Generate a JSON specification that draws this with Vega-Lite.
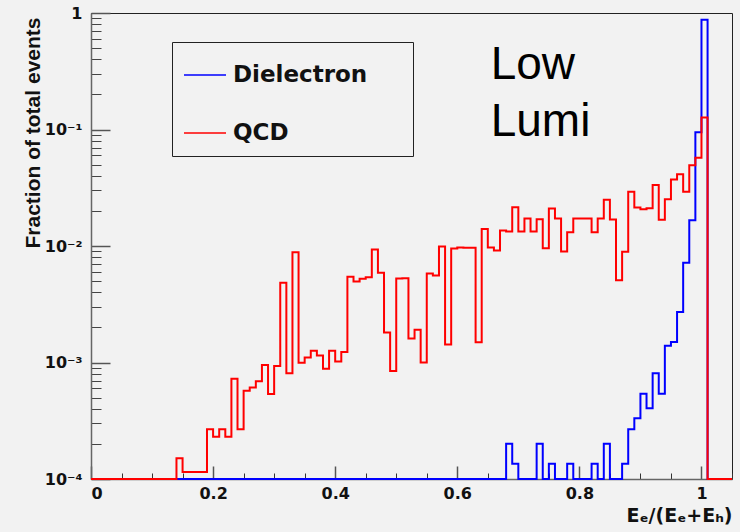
{
  "$schema": "https://vega.github.io/schema/vega-lite/v6.json",
  "width": 641,
  "height": 466,
  "autosize": {"type": "none"},
  "padding": {"left": 91, "top": 13, "right": 8, "bottom": 53},
  "background": "#f2f2f2",
  "config": {
    "view": {"stroke": "#222", "strokeWidth": 1, "fill": "#f2f2f2"},
    "font": "DejaVu Sans"
  },
  "data": {
    "values": [
      {"series":"Dielectron","bin":0,"frac":0.0001},{"series":"Dielectron","bin":0.01,"frac":0.0001},{"series":"Dielectron","bin":0.02,"frac":0.0001},{"series":"Dielectron","bin":0.03,"frac":0.0001},{"series":"Dielectron","bin":0.04,"frac":0.0001},{"series":"Dielectron","bin":0.05,"frac":0.0001},{"series":"Dielectron","bin":0.06,"frac":0.0001},{"series":"Dielectron","bin":0.07,"frac":0.0001},{"series":"Dielectron","bin":0.08,"frac":0.0001},{"series":"Dielectron","bin":0.09,"frac":0.0001},
      {"series":"Dielectron","bin":0.1,"frac":0.0001},{"series":"Dielectron","bin":0.11,"frac":0.0001},{"series":"Dielectron","bin":0.12,"frac":0.0001},{"series":"Dielectron","bin":0.13,"frac":0.0001},{"series":"Dielectron","bin":0.14,"frac":0.0001},{"series":"Dielectron","bin":0.15,"frac":0.0001},{"series":"Dielectron","bin":0.16,"frac":0.0001},{"series":"Dielectron","bin":0.17,"frac":0.0001},{"series":"Dielectron","bin":0.18,"frac":0.0001},{"series":"Dielectron","bin":0.19,"frac":0.0001},
      {"series":"Dielectron","bin":0.2,"frac":0.0001},{"series":"Dielectron","bin":0.21,"frac":0.0001},{"series":"Dielectron","bin":0.22,"frac":0.0001},{"series":"Dielectron","bin":0.23,"frac":0.0001},{"series":"Dielectron","bin":0.24,"frac":0.0001},{"series":"Dielectron","bin":0.25,"frac":0.0001},{"series":"Dielectron","bin":0.26,"frac":0.0001},{"series":"Dielectron","bin":0.27,"frac":0.0001},{"series":"Dielectron","bin":0.28,"frac":0.0001},{"series":"Dielectron","bin":0.29,"frac":0.0001},
      {"series":"Dielectron","bin":0.3,"frac":0.0001},{"series":"Dielectron","bin":0.31,"frac":0.0001},{"series":"Dielectron","bin":0.32,"frac":0.0001},{"series":"Dielectron","bin":0.33,"frac":0.0001},{"series":"Dielectron","bin":0.34,"frac":0.0001},{"series":"Dielectron","bin":0.35,"frac":0.0001},{"series":"Dielectron","bin":0.36,"frac":0.0001},{"series":"Dielectron","bin":0.37,"frac":0.0001},{"series":"Dielectron","bin":0.38,"frac":0.0001},{"series":"Dielectron","bin":0.39,"frac":0.0001},
      {"series":"Dielectron","bin":0.4,"frac":0.0001},{"series":"Dielectron","bin":0.41,"frac":0.0001},{"series":"Dielectron","bin":0.42,"frac":0.0001},{"series":"Dielectron","bin":0.43,"frac":0.0001},{"series":"Dielectron","bin":0.44,"frac":0.0001},{"series":"Dielectron","bin":0.45,"frac":0.0001},{"series":"Dielectron","bin":0.46,"frac":0.0001},{"series":"Dielectron","bin":0.47,"frac":0.0001},{"series":"Dielectron","bin":0.48,"frac":0.0001},{"series":"Dielectron","bin":0.49,"frac":0.0001},
      {"series":"Dielectron","bin":0.5,"frac":0.0001},{"series":"Dielectron","bin":0.51,"frac":0.0001},{"series":"Dielectron","bin":0.52,"frac":0.0001},{"series":"Dielectron","bin":0.53,"frac":0.0001},{"series":"Dielectron","bin":0.54,"frac":0.0001},{"series":"Dielectron","bin":0.55,"frac":0.0001},{"series":"Dielectron","bin":0.56,"frac":0.0001},{"series":"Dielectron","bin":0.57,"frac":0.0001},{"series":"Dielectron","bin":0.58,"frac":0.0001},{"series":"Dielectron","bin":0.59,"frac":0.0001},
      {"series":"Dielectron","bin":0.6,"frac":0.0001},{"series":"Dielectron","bin":0.61,"frac":0.0001},{"series":"Dielectron","bin":0.62,"frac":0.0001},{"series":"Dielectron","bin":0.63,"frac":0.0001},{"series":"Dielectron","bin":0.64,"frac":0.0001},{"series":"Dielectron","bin":0.65,"frac":0.0001},{"series":"Dielectron","bin":0.66,"frac":0.0001},{"series":"Dielectron","bin":0.67,"frac":0.0001},{"series":"Dielectron","bin":0.68,"frac":0.000201},{"series":"Dielectron","bin":0.69,"frac":0.0001355},
      {"series":"Dielectron","bin":0.7,"frac":0.0001},{"series":"Dielectron","bin":0.71,"frac":0.0001},{"series":"Dielectron","bin":0.72,"frac":0.0001},{"series":"Dielectron","bin":0.73,"frac":0.000201},{"series":"Dielectron","bin":0.74,"frac":0.0001},{"series":"Dielectron","bin":0.75,"frac":0.0001355},{"series":"Dielectron","bin":0.76,"frac":0.0001},{"series":"Dielectron","bin":0.77,"frac":0.0001},{"series":"Dielectron","bin":0.78,"frac":0.0001355},{"series":"Dielectron","bin":0.79,"frac":0.0001},
      {"series":"Dielectron","bin":0.8,"frac":0.0001},{"series":"Dielectron","bin":0.81,"frac":0.0001},{"series":"Dielectron","bin":0.82,"frac":0.0001355},{"series":"Dielectron","bin":0.83,"frac":0.0001},{"series":"Dielectron","bin":0.84,"frac":0.000201},{"series":"Dielectron","bin":0.85,"frac":0.0001},{"series":"Dielectron","bin":0.86,"frac":0.0001},{"series":"Dielectron","bin":0.87,"frac":0.0001355},{"series":"Dielectron","bin":0.88,"frac":0.000267},{"series":"Dielectron","bin":0.89,"frac":0.000333},
      {"series":"Dielectron","bin":0.9,"frac":0.00054},{"series":"Dielectron","bin":0.91,"frac":0.000404},{"series":"Dielectron","bin":0.92,"frac":0.000807},{"series":"Dielectron","bin":0.93,"frac":0.00054},{"series":"Dielectron","bin":0.94,"frac":0.00139},{"series":"Dielectron","bin":0.95,"frac":0.0015},{"series":"Dielectron","bin":0.96,"frac":0.00271},{"series":"Dielectron","bin":0.97,"frac":0.00718},{"series":"Dielectron","bin":0.98,"frac":0.0166},{"series":"Dielectron","bin":0.99,"frac":0.0946},
      {"series":"Dielectron","bin":1,"frac":0.876},{"series":"Dielectron","bin":1.01,"frac":0.0001},{"series":"Dielectron","bin":1.02,"frac":0.0001},{"series":"Dielectron","bin":1.03,"frac":0.0001},{"series":"Dielectron","bin":1.04,"frac":0.0001},{"series":"Dielectron","bin":1.05,"frac":0.0001},

      {"series":"QCD","bin":0,"frac":0.0001},{"series":"QCD","bin":0.01,"frac":0.0001},{"series":"QCD","bin":0.02,"frac":0.0001},{"series":"QCD","bin":0.03,"frac":0.0001},{"series":"QCD","bin":0.04,"frac":0.0001},{"series":"QCD","bin":0.05,"frac":0.0001},{"series":"QCD","bin":0.06,"frac":0.0001},{"series":"QCD","bin":0.07,"frac":0.0001},{"series":"QCD","bin":0.08,"frac":0.0001},{"series":"QCD","bin":0.09,"frac":0.0001},
      {"series":"QCD","bin":0.1,"frac":0.0001},{"series":"QCD","bin":0.11,"frac":0.0001},{"series":"QCD","bin":0.12,"frac":0.0001},{"series":"QCD","bin":0.13,"frac":0.0001},{"series":"QCD","bin":0.14,"frac":0.000151},{"series":"QCD","bin":0.15,"frac":0.000115},{"series":"QCD","bin":0.16,"frac":0.000115},{"series":"QCD","bin":0.17,"frac":0.000115},{"series":"QCD","bin":0.18,"frac":0.000115},{"series":"QCD","bin":0.19,"frac":0.000267},
      {"series":"QCD","bin":0.2,"frac":0.000231},{"series":"QCD","bin":0.21,"frac":0.000267},{"series":"QCD","bin":0.22,"frac":0.000231},{"series":"QCD","bin":0.23,"frac":0.000726},{"series":"QCD","bin":0.24,"frac":0.000267},{"series":"QCD","bin":0.25,"frac":0.000573},{"series":"QCD","bin":0.26,"frac":0.000611},{"series":"QCD","bin":0.27,"frac":0.000689},{"series":"QCD","bin":0.28,"frac":0.00095},{"series":"QCD","bin":0.29,"frac":0.000536},
      {"series":"QCD","bin":0.3,"frac":0.000931},{"series":"QCD","bin":0.31,"frac":0.00483},{"series":"QCD","bin":0.32,"frac":0.000807},{"series":"QCD","bin":0.33,"frac":0.00885},{"series":"QCD","bin":0.34,"frac":0.000996},{"series":"QCD","bin":0.35,"frac":0.001106},{"series":"QCD","bin":0.36,"frac":0.001262},{"series":"QCD","bin":0.37,"frac":0.00115},{"series":"QCD","bin":0.38,"frac":0.000885},{"series":"QCD","bin":0.39,"frac":0.00126},
      {"series":"QCD","bin":0.4,"frac":0.00102},{"series":"QCD","bin":0.41,"frac":0.001228},{"series":"QCD","bin":0.42,"frac":0.00544},{"series":"QCD","bin":0.43,"frac":0.00496},{"series":"QCD","bin":0.44,"frac":0.00523},{"series":"QCD","bin":0.45,"frac":0.0054},{"series":"QCD","bin":0.46,"frac":0.00933},{"series":"QCD","bin":0.47,"frac":0.00589},{"series":"QCD","bin":0.48,"frac":0.00181},{"series":"QCD","bin":0.49,"frac":0.000844},
      {"series":"QCD","bin":0.5,"frac":0.00526},{"series":"QCD","bin":0.51,"frac":0.00529},{"series":"QCD","bin":0.52,"frac":0.00161},{"series":"QCD","bin":0.53,"frac":0.00191},{"series":"QCD","bin":0.54,"frac":0.001},{"series":"QCD","bin":0.55,"frac":0.00581},{"series":"QCD","bin":0.56,"frac":0.00558},{"series":"QCD","bin":0.57,"frac":0.0099},{"series":"QCD","bin":0.58,"frac":0.00143},{"series":"QCD","bin":0.59,"frac":0.00952},
      {"series":"QCD","bin":0.6,"frac":0.00971},{"series":"QCD","bin":0.61,"frac":0.00965},{"series":"QCD","bin":0.62,"frac":0.00965},{"series":"QCD","bin":0.63,"frac":0.00149},{"series":"QCD","bin":0.64,"frac":0.014},{"series":"QCD","bin":0.65,"frac":0.00971},{"series":"QCD","bin":0.66,"frac":0.00915},{"series":"QCD","bin":0.67,"frac":0.0136},{"series":"QCD","bin":0.68,"frac":0.0133},{"series":"QCD","bin":0.69,"frac":0.0215},
      {"series":"QCD","bin":0.7,"frac":0.0133},{"series":"QCD","bin":0.71,"frac":0.0172},{"series":"QCD","bin":0.72,"frac":0.0133},{"series":"QCD","bin":0.73,"frac":0.017},{"series":"QCD","bin":0.74,"frac":0.00958},{"series":"QCD","bin":0.75,"frac":0.021},{"series":"QCD","bin":0.76,"frac":0.0172},{"series":"QCD","bin":0.77,"frac":0.00897},{"series":"QCD","bin":0.78,"frac":0.0131},{"series":"QCD","bin":0.79,"frac":0.0172},
      {"series":"QCD","bin":0.8,"frac":0.0172},{"series":"QCD","bin":0.81,"frac":0.0172},{"series":"QCD","bin":0.82,"frac":0.0131},{"series":"QCD","bin":0.83,"frac":0.0172},{"series":"QCD","bin":0.84,"frac":0.025},{"series":"QCD","bin":0.85,"frac":0.0169},{"series":"QCD","bin":0.86,"frac":0.00509},{"series":"QCD","bin":0.87,"frac":0.00891},{"series":"QCD","bin":0.88,"frac":0.0292},{"series":"QCD","bin":0.89,"frac":0.0214},
      {"series":"QCD","bin":0.9,"frac":0.0207},{"series":"QCD","bin":0.91,"frac":0.0211},{"series":"QCD","bin":0.92,"frac":0.0334},{"series":"QCD","bin":0.93,"frac":0.0168},{"series":"QCD","bin":0.94,"frac":0.0252},{"series":"QCD","bin":0.95,"frac":0.0372},{"series":"QCD","bin":0.96,"frac":0.0412},{"series":"QCD","bin":0.97,"frac":0.0292},{"series":"QCD","bin":0.98,"frac":0.0493},{"series":"QCD","bin":0.99,"frac":0.0571},
      {"series":"QCD","bin":1,"frac":0.127},{"series":"QCD","bin":1.01,"frac":0.0001},{"series":"QCD","bin":1.02,"frac":0.0001},{"series":"QCD","bin":1.03,"frac":0.0001},{"series":"QCD","bin":1.04,"frac":0.0001},{"series":"QCD","bin":1.05,"frac":0.0001}
    ]
  },
  "layer": [
    {
      "mark": {"type": "point", "opacity": 0},
      "encoding": {
        "x": {
          "field": "bin", "type": "quantitative",
          "scale": {"domain": [0, 1.05], "nice": false, "zero": false},
          "axis": {
            "orient": "bottom",
            "values": [0,0.05,0.1,0.15,0.2,0.25,0.3,0.35,0.4,0.45,0.5,0.55,0.6,0.65,0.7,0.75,0.8,0.85,0.9,0.95,1,1.05],
            "tickSize": -6, "tickColor": "#333", "tickWidth": 1,
            "labels": false, "domain": false, "grid": false, "title": null
          }
        },
        "y": {
          "field": "frac", "type": "quantitative",
          "scale": {"type": "log", "domain": [0.0001, 1], "nice": false},
          "axis": {
            "orient": "left",
            "values": [0.0002,0.0003,0.0004,0.0005,0.0006,0.0007,0.0008,0.0009,0.002,0.003,0.004,0.005,0.006,0.007,0.008,0.009,0.02,0.03,0.04,0.05,0.06,0.07,0.08,0.09,0.2,0.3,0.4,0.5,0.6,0.7,0.8,0.9],
            "tickSize": -10, "tickColor": "#444", "tickWidth": 1,
            "labels": false, "domain": false, "grid": false, "title": null
          }
        }
      }
    },
    {
      "mark": {"type": "line", "interpolate": "step-after", "strokeWidth": 2},
      "encoding": {
        "x": {
          "field": "bin", "type": "quantitative",
          "axis": {
            "orient": "bottom",
            "values": [0, 0.2, 0.4, 0.6, 0.8, 1],
            "format": ".1~f",
            "tickSize": -13, "tickColor": "#555", "tickWidth": 1.5,
            "domainColor": "#666", "domainWidth": 1.5,
            "labelFont": "DejaVu Sans", "labelFontWeight": "bold", "labelFontSize": 16, "labelColor": "#111",
            "labelPadding": 19, "labelBaseline": "top",
            "grid": false,
            "title": "Eₑ/(Eₑ+Eₕ)",
            "titleFont": "DejaVu Sans", "titleFontWeight": "bold", "titleFontSize": 19, "titleColor": "#111",
            "titleAnchor": "end", "titleAlign": "right", "titleBaseline": "alphabetic",
            "titleX": 641, "titleY": 42
          }
        },
        "y": {
          "field": "frac", "type": "quantitative",
          "axis": {
            "orient": "left",
            "values": [0.0001, 0.001, 0.01, 0.1, 1],
            "labelExpr": "datum.value > 0.5 ? '1' : datum.value > 0.05 ? '10⁻¹' : datum.value > 0.005 ? '10⁻²' : datum.value > 0.0005 ? '10⁻³' : '10⁻⁴'",
            "tickSize": -19, "tickColor": "#555", "tickWidth": 1.5,
            "domainColor": "#666", "domainWidth": 1.5,
            "labelFont": "DejaVu Sans", "labelFontWeight": "bold", "labelFontSize": 16, "labelColor": "#111",
            "labelPadding": 28,
            "grid": false,
            "title": "Fraction of total events",
            "titleFont": "Liberation Sans", "titleFontWeight": "bold", "titleFontSize": 21, "titleColor": "#111",
            "titleAngle": 270, "titleAlign": "right", "titleBaseline": "alphabetic",
            "titleX": -52, "titleY": 4
          }
        },
        "color": {
          "field": "series", "type": "nominal",
          "scale": {"domain": ["Dielectron", "QCD"], "range": ["#0000ff", "#ff0000"]},
          "legend": {
            "orient": "none", "legendX": 81, "legendY": 29,
            "title": null,
            "symbolType": "stroke", "symbolSize": 1764, "symbolStrokeWidth": 1.5,
            "labelFont": "DejaVu Sans", "labelFontWeight": "bold", "labelFontSize": 23, "labelColor": "#111",
            "labelOffset": 6, "labelLimit": 400,
            "labelExpr": "datum.label + '\u2003\u2002\u200B'",
            "strokeColor": "#222", "fillColor": "#f2f2f2",
            "padding": 11, "rowPadding": 24
          }
        }
      }
    },
    {
      "data": {"values": [{"note": "Low\nLumi"}]},
      "mark": {"type": "text", "align": "left", "baseline": "alphabetic", "font": "Liberation Sans", "fontSize": 46, "lineBreak": "\n", "lineHeight": 57, "color": "#000"},
      "encoding": {
        "text": {"field": "note"},
        "x": {"datum": 0.6547, "type": "quantitative", "axis": null},
        "y": {"datum": 0.2716, "type": "quantitative", "axis": null}
      }
    }
  ],
  "resolve": {"axis": {"x": "independent", "y": "independent"}}
}
